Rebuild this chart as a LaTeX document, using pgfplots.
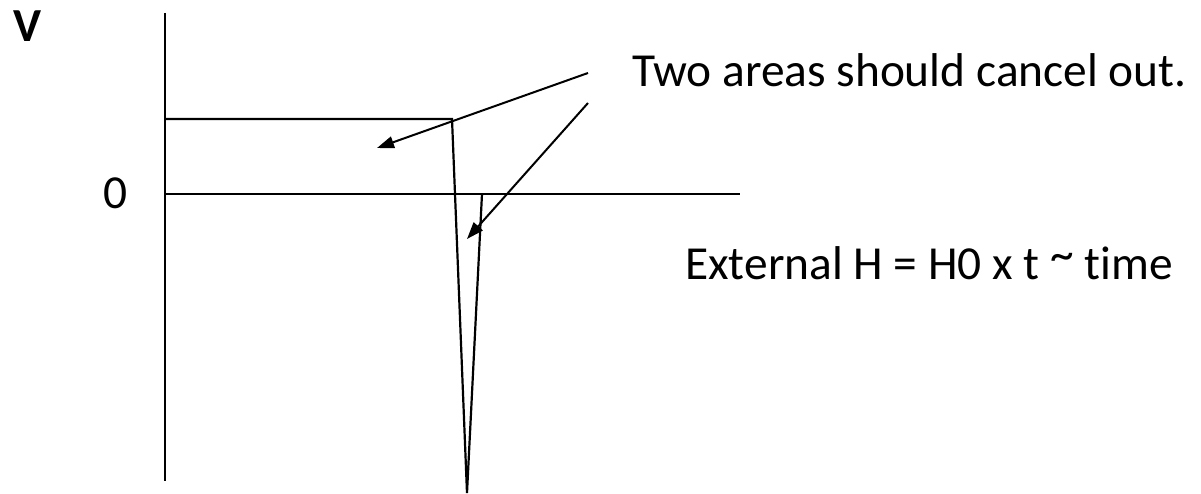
\documentclass[border=0pt]{standalone}
\usepackage{fontspec}
\setmainfont{Carlito}[Ligatures=NoCommon]
\usepackage{pgfplots}
\pgfplotsset{compat=1.18}
\usetikzlibrary{arrows.meta}
\begin{document}
\begin{tikzpicture}
\begin{axis}[
  at={(0,0)}, anchor=south west,
  scale only axis, width=1201bp, height=494bp,
  xmin=0, xmax=1201, ymin=0, ymax=494,
  y dir=reverse, hide axis, clip=false,
]
% vertical axis
\addplot[black, line width=2.2bp, mark=none] coordinates {(165,13) (165,481)};
% zero line
\addplot[black, line width=1.8bp, mark=none] coordinates {(165,194) (740,194)};
% signal
\addplot[black, line width=2.2bp, mark=none, line join=miter] coordinates {(165,119) (452,119) (467,493) (482,194)};
% arrows
\draw[black, line width=2bp, -{Triangle[length=17bp,width=12bp]}] (axis cs:588,73) -- (axis cs:377,148);
\draw[black, line width=2bp, -{Triangle[length=17bp,width=12bp]}] (axis cs:588,103) -- (axis cs:467,239);
% texts
\node[anchor=base west, inner sep=0pt, font=\fontsize{47.4bp}{56bp}\selectfont\bfseries] at (axis cs:13,42) {V};
\node[anchor=base west, inner sep=0pt, font=\fontsize{47.4bp}{56bp}\selectfont] at (axis cs:103,208) {0};
\node[anchor=base west, inner sep=0pt, font=\fontsize{47.4bp}{56bp}\selectfont] at (axis cs:632,87) {Two areas should cancel out.};
\node[anchor=base west, inner sep=0pt, font=\fontsize{47.4bp}{56bp}\selectfont] at (axis cs:685,279) {External H = H0 x t \raisebox{0.18em}{\textasciitilde} time};
\end{axis}
\pgfresetboundingbox
\path[use as bounding box] (0,0) rectangle (1201bp,494bp);
\end{tikzpicture}
\end{document}
